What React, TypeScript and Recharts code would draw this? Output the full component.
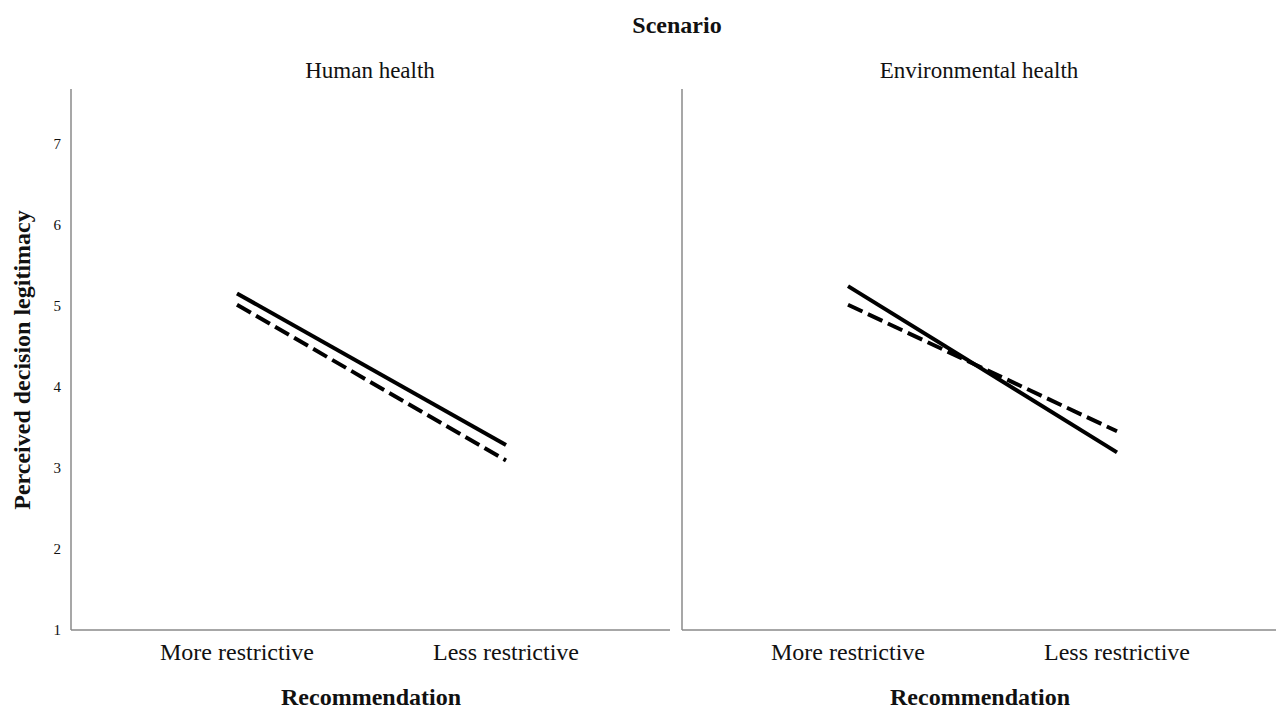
import React from "react";
import { LineChart, Line, XAxis, YAxis } from "recharts";

// categories and values
const recommendations = ["More restrictive", "Less restrictive"];
const humanSolid = [5.15, 3.28];
const humanDashed = [5.01, 3.09];
const envSolid = [5.24, 3.19];
const envDashed = [5.01, 3.45];
const yTicks = [1, 2, 3, 4, 5, 6, 7];

const build = (solid: number[], dashed: number[]) =>
  recommendations.map((r, i) => ({ name: r, solid: solid[i], dashed: dashed[i] }));

const humanData = build(humanSolid, humanDashed);
const envData = build(envSolid, envDashed);

const FONT = "'Liberation Serif', 'Times New Roman', serif";
const AXIS = "#8a8a8a";

interface PanelProps {
  data: { name: string; solid: number; dashed: number }[];
  showY: boolean;
  pad: { left: number; right: number };
}

function Panel({ data, showY, pad }: PanelProps) {
  return (
    <LineChart
      width={showY ? 680 : 606}
      height={709}
      data={data}
      margin={{ top: 89, right: showY ? 10 : 2, bottom: 49, left: showY ? 0 : 9 }}
    >
      <XAxis
        dataKey="name"
        padding={pad}
        height={30}
        tickLine={false}
        axisLine={{ stroke: AXIS, strokeWidth: 1.5 }}
        tick={{ fill: "#111", fontSize: 24, fontFamily: FONT }}
        tickMargin={7}
        interval={0}
      />
      <YAxis
        domain={[1, 7.67]}
        ticks={yTicks}
        width={showY ? 71 : 1}
        tickLine={false}
        tick={showY ? { fill: "#111", fontSize: 15, fontFamily: FONT } : false}
        tickMargin={4}
        axisLine={{ stroke: AXIS, strokeWidth: 1.5 }}
        allowDataOverflow
      />
      <Line
        dataKey="solid"
        stroke="#000"
        strokeWidth={4}
        dot={false}
        isAnimationActive={false}
      />
      <Line
        dataKey="dashed"
        stroke="#000"
        strokeWidth={4}
        strokeDasharray="16 6"
        dot={false}
        isAnimationActive={false}
      />
    </LineChart>
  );
}

const textStyle: React.CSSProperties = {
  position: "absolute",
  fontFamily: FONT,
  color: "#111",
  whiteSpace: "nowrap",
  transform: "translate(-50%, -50%)",
};

export default function App() {
  return (
    <div
      style={{
        position: "absolute",
        left: 0,
        top: 0,
        width: 1278,
        height: 709,
        background: "#fff",
        overflow: "hidden",
      }}
    >
      <div style={{ position: "absolute", left: 0, top: 0 }}>
        <Panel data={humanData} showY pad={{ left: 166, right: 164 }} />
      </div>
      <div style={{ position: "absolute", left: 672, top: 0 }}>
        <Panel data={envData} showY={false} pad={{ left: 166, right: 159 }} />
      </div>

      <div style={{ ...textStyle, left: 677, top: 25, fontSize: 24, fontWeight: "bold" }}>Scenario</div>
      <div style={{ ...textStyle, left: 370, top: 71, fontSize: 23 }}>Human health</div>
      <div style={{ ...textStyle, left: 979, top: 71, fontSize: 23 }}>Environmental health</div>
      <div style={{ ...textStyle, left: 371, top: 697, fontSize: 24, fontWeight: "bold" }}>Recommendation</div>
      <div style={{ ...textStyle, left: 980, top: 697, fontSize: 24, fontWeight: "bold" }}>Recommendation</div>
      <div
        style={{
          ...textStyle,
          left: 22,
          top: 360,
          fontSize: 24,
          fontWeight: "bold",
          transform: "translate(-50%, -50%) rotate(-90deg)",
        }}
      >
        Perceived decision legitimacy
      </div>
    </div>
  );
}
